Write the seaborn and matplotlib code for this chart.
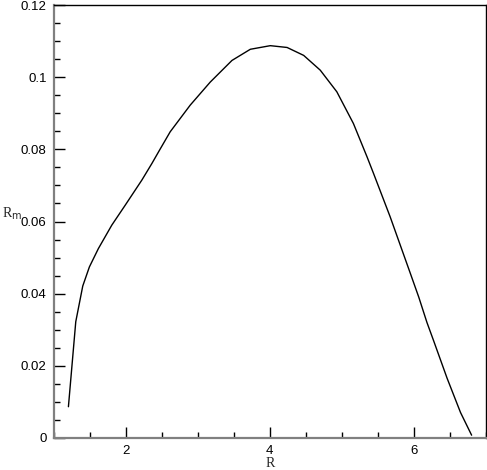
import numpy as np
import pandas as pd
import seaborn as sns
import matplotlib.pyplot as plt
from matplotlib.ticker import MultipleLocator

# values
r_vals = [1.206, 1.308, 1.405, 1.497, 1.622, 1.808, 1.993, 2.225, 2.364, 2.47,
          2.618, 2.896, 3.035, 3.174, 3.475, 3.73, 4.007, 4.24, 4.47,
          4.70, 4.93, 5.16, 5.35, 5.44, 5.67, 5.95, 6.067, 6.18, 6.275,
          6.46, 6.646, 6.80]
rm_vals = [0.0086, 0.0322, 0.0421, 0.0474, 0.0525, 0.0590, 0.0645, 0.0715, 0.0761, 0.0798,
           0.0849, 0.0923, 0.0955, 0.0987, 0.1047, 0.1078, 0.1088, 0.1083, 0.1061,
           0.1020, 0.0960, 0.0872, 0.0779, 0.0733, 0.0613, 0.0456, 0.0390, 0.0320, 0.0268,
           0.0165, 0.0070, 0.0007]

df = pd.DataFrame({'R': r_vals, 'Rm': rm_vals})

sns.set_style('white')
plt.rcParams['font.family'] = ['Liberation Sans', 'DejaVu Sans']

fig = plt.figure(figsize=(4.87, 4.70), dpi=100)
ax = fig.add_axes([0.110, 0.0687, 0.888, 0.920])
sns.lineplot(data=df, x='R', y='Rm', ax=ax, color='black', linewidth=1.0, sort=False)

ax.set_xlim(1, 7)
ax.set_ylim(0, 0.12)
ax.set_xticks([2, 4, 6])
ax.set_xticklabels(['2', '4', '6'])
ax.set_yticks([0, 0.02, 0.04, 0.06, 0.08, 0.1, 0.12])
ax.set_yticklabels(['0', '0.02', '0.04', '0.06', '0.08', '0.1', '0.12'])
ax.xaxis.set_minor_locator(MultipleLocator(0.5))
ax.yaxis.set_minor_locator(MultipleLocator(0.005))

ax.tick_params(which='both', direction='in', bottom=True, left=True, top=False, right=False,
               labelsize=9.5, colors='black', pad=5)
ax.tick_params(which='major', length=8, width=1)
ax.tick_params(which='minor', length=4, width=1)

for side in ['left', 'bottom']:
    ax.spines[side].set_color('#808080')
    ax.spines[side].set_linewidth(1.6)
for side in ['top', 'right']:
    ax.spines[side].set_color('black')
    ax.spines[side].set_linewidth(1.0)

ax.set_xlabel('R', family='Liberation Serif', fontsize=10)
ax.xaxis.set_label_coords(0.5, -0.045)
ax.set_ylabel('R$_{\\rm m}$', family='Liberation Serif', fontsize=10, rotation=0)
ax.yaxis.set_label_coords(-0.097, 0.5)

fig.savefig('out.png', dpi=100)
